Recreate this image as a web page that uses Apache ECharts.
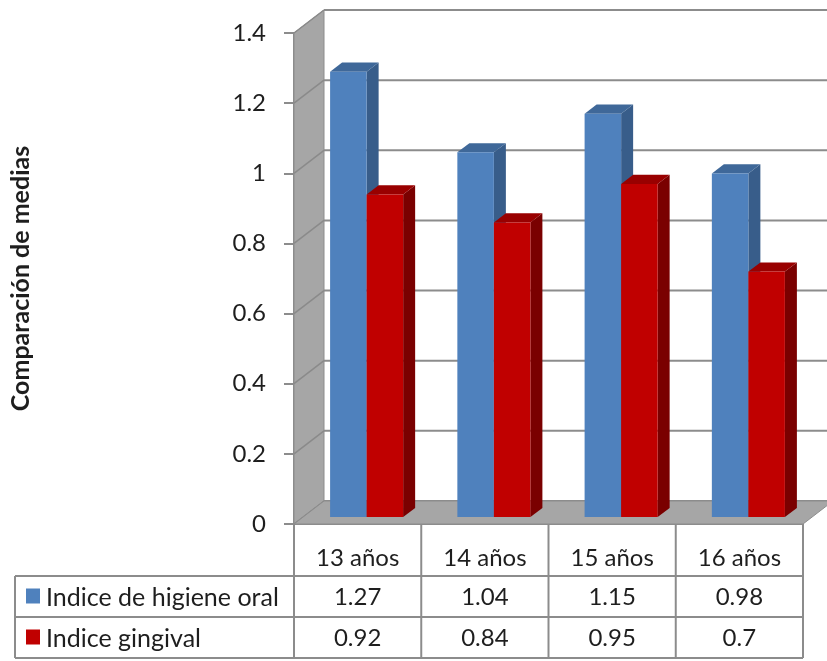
<!DOCTYPE html>
<html>
<head>
<meta charset="utf-8">
<script src="https://cdn.jsdelivr.net/npm/echarts@6/dist/echarts.min.js"></script>
<style>
  html, body { margin: 0; padding: 0; background: #ffffff; }
  #chart { width: 827px; height: 661px; }
</style>
</head>
<body>
<div id="chart"></div>
<script>
// Age groups and the two mean indices per group
const categories = ['13 años', '14 años', '15 años', '16 años'];
const seriesNames = ['Indice de higiene oral', 'Indice gingival'];
const higieneOral = [1.27, 1.04, 1.15, 0.98];
const gingival = [0.92, 0.84, 0.95, 0.7];
const yTicks = [0, 0.2, 0.4, 0.6, 0.8, 1, 1.2, 1.4];
const axisTitle = 'Comparación de medias';

// 3D projection of the plot box (receding depth in pixels)
const DEPTH_X = 30;
const DEPTH_Y = -23;
const BAR_FRONT = 0.3;   // fraction of depth where bar fronts sit
const BAR_DEPTH = 0.4;   // fraction of depth taken by a bar
const BAR_RATIO = 0.287; // bar width relative to category band

const FONT = 'Lato';
const TEXT = '#1e1e1e';
const GRID_GRAY = '#8c8c8c';
const WALL_GRAY = '#a6a6a6';

const palettes = [
  { front: '#4f81bd', side: '#385d8a', top: '#3f6899' },
  { front: '#c00000', side: '#7a0000', top: '#990000' }
];

const chart = echarts.init(document.getElementById('chart'), null, { renderer: 'canvas' });

function frameItem(params, api) {
  const cs = params.coordSys;
  const x = cs.x, w = cs.width;
  const yb = api.coord([0, yTicks[0]])[1];
  const yt = api.coord([0, yTicks[yTicks.length - 1]])[1];
  const children = [];
  // left wall
  children.push({
    type: 'polygon',
    shape: { points: [[x, yb], [x, yt], [x + DEPTH_X, yt + DEPTH_Y], [x + DEPTH_X, yb + DEPTH_Y]] },
    style: { fill: WALL_GRAY, stroke: GRID_GRAY, lineWidth: 1 }
  });
  // gridlines: across the wall and along the back
  yTicks.forEach(function (v) {
    const y = api.coord([0, v])[1];
    children.push({
      type: 'line',
      shape: { x1: x, y1: y, x2: x + DEPTH_X, y2: y + DEPTH_Y },
      style: { stroke: '#8a8a8a', lineWidth: 1.5 }
    });
    children.push({
      type: 'line',
      shape: { x1: x + DEPTH_X, y1: y + DEPTH_Y, x2: x + w + DEPTH_X, y2: y + DEPTH_Y },
      style: { stroke: GRID_GRAY, lineWidth: 2 }
    });
  });
  // floor
  children.push({
    type: 'polygon',
    shape: { points: [[x, yb], [x + w, yb], [x + w + DEPTH_X, yb + DEPTH_Y], [x + DEPTH_X, yb + DEPTH_Y]] },
    style: { fill: WALL_GRAY, stroke: GRID_GRAY, lineWidth: 1 }
  });
  return { type: 'group', children: children };
}

function barRenderer(slot) {
  const pal = palettes[slot];
  return function (params, api) {
    const i = api.value(0);
    const v = api.value(1);
    const c = api.coord([i, v]);
    const base = api.coord([i, 0]);
    const band = api.size([1, 0])[0];
    const bw = band * BAR_RATIO;
    const fx = BAR_FRONT * DEPTH_X, fy = BAR_FRONT * DEPTH_Y;
    const dx = BAR_DEPTH * DEPTH_X, dy = BAR_DEPTH * DEPTH_Y;
    const x0 = c[0] - bw + slot * bw + fx;
    const x1 = x0 + bw;
    const yTop = c[1] + fy;
    const yBot = base[1] + fy;
    return {
      type: 'group',
      children: [
        { type: 'polygon', shape: { points: [[x1, yBot], [x1, yTop], [x1 + dx, yTop + dy], [x1 + dx, yBot + dy]] },
          style: { fill: pal.side } },
        { type: 'polygon', shape: { points: [[x0, yTop], [x1, yTop], [x1 + dx, yTop + dy], [x0 + dx, yTop + dy]] },
          style: { fill: pal.top } },
        { type: 'rect', shape: { x: x0, y: yTop, width: bw, height: yBot - yTop },
          style: { fill: pal.front } }
      ]
    };
  };
}

chart.setOption({
  animation: false,
  backgroundColor: '#ffffff',
  grid: { left: 287, right: 24, top: 33, bottom: 137, containLabel: false },
  xAxis: {
    type: 'category',
    data: categories,
    axisLine: { show: false },
    axisTick: { show: false },
    axisLabel: { show: false },
    splitLine: { show: false }
  },
  yAxis: {
    type: 'value',
    min: yTicks[0],
    max: yTicks[yTicks.length - 1],
    interval: yTicks[1] - yTicks[0],
    name: axisTitle,
    nameLocation: 'middle',
    nameRotate: 90,
    nameGap: 261,
    nameTextStyle: { fontFamily: FONT, fontWeight: 'bold', fontSize: 25, color: TEXT },
    axisLine: { show: true, lineStyle: { color: GRID_GRAY, width: 2 } },
    axisTick: { show: true, length: 10, lineStyle: { color: GRID_GRAY, width: 2 } },
    axisLabel: { margin: 28, fontFamily: FONT, fontSize: 24, color: TEXT, padding: [7, 0, 0, 0] },
    splitLine: { show: false }
  },
  series: [
    { type: 'custom', name: 'frame', z: 1, silent: true, data: [[0, 0]], renderItem: frameItem },
    { type: 'custom', name: seriesNames[0], z: 3, data: higieneOral.map(function (v, i) { return [i, v]; }), renderItem: barRenderer(0) },
    { type: 'custom', name: seriesNames[1], z: 4, data: gingival.map(function (v, i) { return [i, v]; }), renderItem: barRenderer(1) }
  ]
});

// Data table below the plot, laid out on the category axis positions
(function drawTable() {
  const yBase = chart.convertToPixel({ yAxisIndex: 0 }, 0);
  const c0 = chart.convertToPixel({ xAxisIndex: 0 }, 0);
  const c1 = chart.convertToPixel({ xAxisIndex: 0 }, 1);
  const band = c1 - c0;
  const left = c0 - band / 2;
  const right = left + band * categories.length;
  const headH = 52, rowH = 41;
  const legendLeft = 15;
  const rows = [higieneOral, gingival];
  const els = [];
  const lineStyle = { stroke: GRID_GRAY, lineWidth: 2 };
  const yH = yBase + headH;
  const yBottom = yH + rowH * rows.length;
  const cellFont = '24px ' + FONT;

  // horizontal rules
  els.push({ type: 'line', shape: { x1: left, y1: yBase, x2: right, y2: yBase }, style: lineStyle });
  for (let r = 0; r <= rows.length; r++) {
    const y = yH + rowH * r;
    els.push({ type: 'line', shape: { x1: legendLeft, y1: y, x2: right, y2: y }, style: lineStyle });
  }
  // vertical rules
  els.push({ type: 'line', shape: { x1: legendLeft, y1: yH, x2: legendLeft, y2: yBottom }, style: lineStyle });
  for (let i = 0; i <= categories.length; i++) {
    const x = left + band * i;
    els.push({ type: 'line', shape: { x1: x, y1: yBase, x2: x, y2: yBottom }, style: lineStyle });
  }
  // header labels
  categories.forEach(function (name, i) {
    els.push({ type: 'text', style: { text: name, x: c0 + band * i, y: yBase + 34, align: 'center', verticalAlign: 'middle',
      font: cellFont, fill: TEXT } });
  });
  // rows: legend key + values
  rows.forEach(function (vals, r) {
    const yc = yH + rowH * r + rowH / 2 + 1;
    els.push({ type: 'rect', shape: { x: 26, y: yc - 9, width: 14, height: 15 }, style: { fill: palettes[r].front } });
    els.push({ type: 'text', style: { text: seriesNames[r], x: 46, y: yc, align: 'left', verticalAlign: 'middle',
      font: '25px ' + FONT, fill: TEXT } });
    vals.forEach(function (v, i) {
      els.push({ type: 'text', style: { text: String(v), x: c0 + band * i, y: yc, align: 'center', verticalAlign: 'middle',
        font: cellFont, fill: TEXT } });
    });
  });
  chart.setOption({ graphic: [{ type: 'group', silent: true, children: els }] });
})();
</script>
</body>
</html>
